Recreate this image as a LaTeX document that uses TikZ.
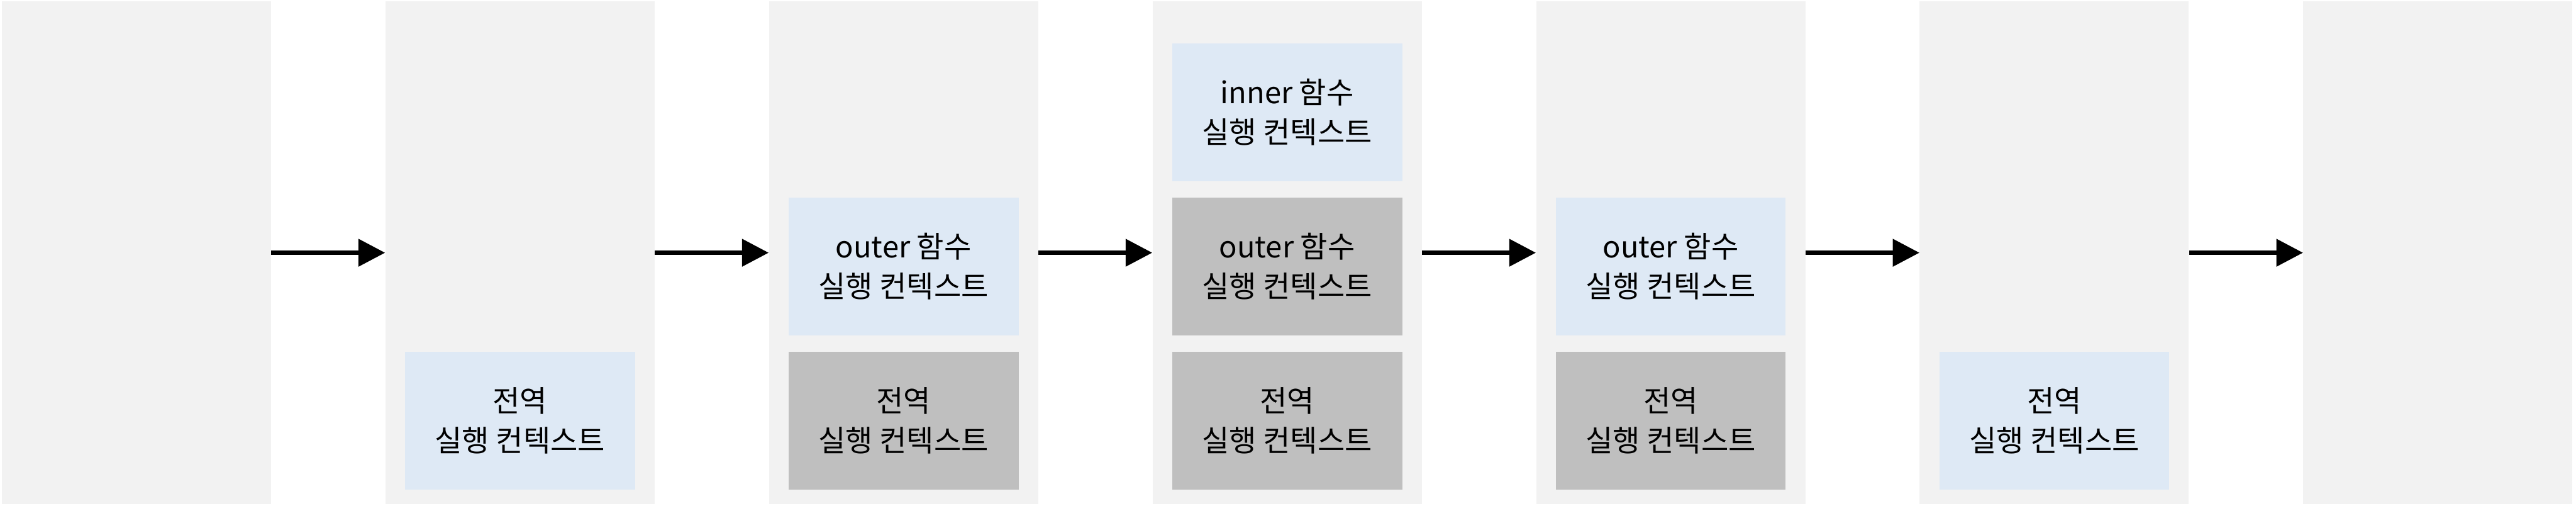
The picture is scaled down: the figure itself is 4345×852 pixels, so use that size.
\documentclass[tikz,border=0pt]{standalone}
\usepackage{fontspec}
\setmainfont{Noto Sans CJK KR}
\usetikzlibrary{arrows.meta}
\definecolor{panelgray}{HTML}{F2F2F2}
\definecolor{ctxblue}{HTML}{DEE9F5}
\definecolor{ctxgray}{HTML}{BFBFBF}
\tikzset{
  panel/.style={fill=panelgray, draw=none, minimum width=227pt, minimum height=424pt, inner sep=0pt},
  ctx/.style={draw=none, minimum width=194pt, minimum height=116pt, inner sep=0pt, align=center,
    font=\fontsize{25}{33}\selectfont},
  active/.style={ctx, fill=ctxblue},
  paused/.style={ctx, fill=ctxgray},
  flow/.style={line width=3.85pt, -{Triangle[length=22.5pt,width=22.5pt]}}
}
\begin{document}
\begin{tikzpicture}[x=0.5pt,y=-0.5pt]
\useasboundingbox (0,0) rectangle (4345,852);
% panels
\foreach \k in {1,...,7}{
  \node[panel] (p\k) at ({3+647*(\k-1)+227},426) {};
}
% arrows
\foreach \a/\b in {1/2,2/3,3/4,4/5,5/6,6/7}{
  \draw[flow] (p\a.east) -- (p\b.west);
}
% panel 2
\node[active] (g2) at ({3+647*1+227},709) {전역\\실행 컨텍스트};
% panel 3
\node[active] (o3) at ({3+647*2+227},449) {outer 함수\\실행 컨텍스트};
\node[paused] (g3) at ({3+647*2+227},709) {전역\\실행 컨텍스트};
% panel 4
\node[active] (i4) at ({3+647*3+227},189) {inner 함수\\실행 컨텍스트};
\node[paused] (o4) at ({3+647*3+227},449) {outer 함수\\실행 컨텍스트};
\node[paused] (g4) at ({3+647*3+227},709) {전역\\실행 컨텍스트};
% panel 5
\node[active] (o5) at ({3+647*4+227},449) {outer 함수\\실행 컨텍스트};
\node[paused] (g5) at ({3+647*4+227},709) {전역\\실행 컨텍스트};
% panel 6
\node[active] (g6) at ({3+647*5+227},709) {전역\\실행 컨텍스트};
\end{tikzpicture}
\end{document}
